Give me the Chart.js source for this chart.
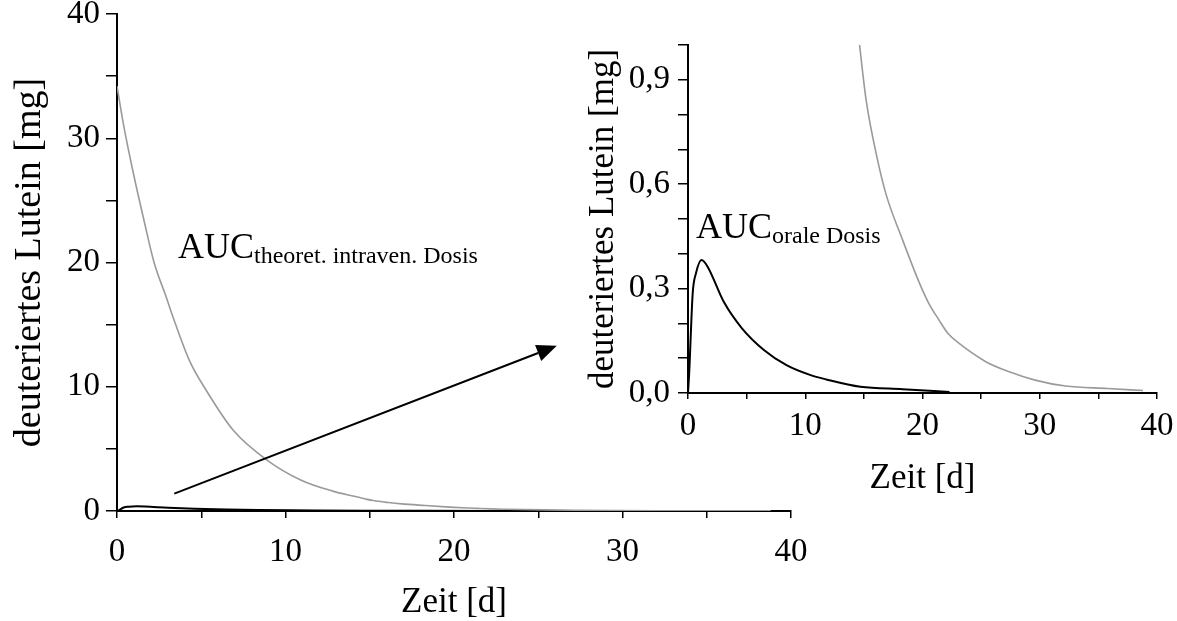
<!DOCTYPE html>
<html>
<head>
<meta charset="utf-8">
<script src="https://cdn.jsdelivr.net/npm/chart.js@4.4.1/dist/chart.umd.min.js"></script>
<style>
  html, body { margin: 0; padding: 0; background: #fff; overflow: hidden; }
  #wrap { position: relative; width: 1177px; height: 621px; overflow: hidden; }
  #main { position: absolute; left: 0; top: 0; }
  #inset { position: absolute; left: 560px; top: 0; }
</style>
</head>
<body>
<div id="wrap">
  <canvas id="main" width="1177" height="624"></canvas>
  <canvas id="inset" width="617" height="500"></canvas>
</div>
<script>
// theoretical intravenous dose (grey)
var zeitIv = [0, 0.4, 1, 1.6, 2.2, 2.9, 3.3, 4.3, 5.3, 6.9, 8.9, 10.9, 12.8, 14.0, 14.7, 15.2, 16.1, 16.9, 18.3, 19.75, 20.5, 21.4, 22.2, 23.1, 25.4, 27.4, 29.6, 32.2, 35.8, 38.8];
var luteinIv = [34.2, 31.0, 27.0, 23.4, 20.0, 17.3, 15.7, 12.1, 9.7, 6.5, 4.1, 2.5, 1.6, 1.2, 0.98, 0.84, 0.68, 0.57, 0.44, 0.315, 0.26, 0.21, 0.17, 0.143, 0.09, 0.061, 0.037, 0.02, 0.013, 0.007];

// oral dose (black)
var zeitOral = [0, 0.1, 0.4, 0.68, 1.16, 1.67, 3.05, 4.6, 6.5, 8.4, 10.4, 11.8, 14.7, 18.3, 22.3];
var luteinOral = [0, 0.057, 0.286, 0.344, 0.382, 0.363, 0.262, 0.186, 0.123, 0.08, 0.052, 0.039, 0.018, 0.011, 0.003];

var mainTicksX = [0, 10, 20, 30, 40];
var mainTicksY = [0, 10, 20, 30, 40];
var insetTicksY = [0, 0.3, 0.6, 0.9];

var serif = "'Liberation Serif', 'Times New Roman', serif";
var tickFont = { family: serif, size: 33 };
var titleFont = { family: serif, size: 35 };
var mainYTitleFont = { family: serif, size: 38 };

function points(xs, ys) {
    var out = [];
    for (var i = 0; i < xs.length; i++) {
        out.push({ x: xs[i], y: ys[i] });
    }
    return out;
}

function hasTick(list, v) {
    for (var i = 0; i < list.length; i++) {
        if (Math.abs(list[i] - v) < 1e-6) return true;
    }
    return false;
}

// "AUC" with subscript, placed in data coordinates
var aucLabel = {
    id: 'aucLabel',
    afterDatasetsDraw: function (chart, args, opts) {
        var ctx = chart.ctx;
        var px = chart.scales.x.getPixelForValue(opts.x);
        var py = chart.scales.y.getPixelForValue(opts.y);
        ctx.save();
        ctx.fillStyle = '#000';
        ctx.textBaseline = 'alphabetic';
        ctx.textAlign = 'left';
        ctx.font = '36px ' + serif;
        ctx.fillText('AUC', px, py);
        var w = ctx.measureText('AUC').width;
        ctx.font = '24px ' + serif;
        ctx.fillText(opts.sub, px + w, py + 5);
        ctx.restore();
    }
};

// arrow from the main chart towards the inset
var arrow = {
    id: 'arrow',
    afterDatasetsDraw: function (chart, args, opts) {
        var ctx = chart.ctx;
        var x1 = chart.scales.x.getPixelForValue(opts.from[0]);
        var y1 = chart.scales.y.getPixelForValue(opts.from[1]);
        var x2 = chart.scales.x.getPixelForValue(opts.to[0]);
        var y2 = chart.scales.y.getPixelForValue(opts.to[1]);
        var a = Math.atan2(y2 - y1, x2 - x1);
        var len = 20, half = 8.5;
        var bx = x2 - len * Math.cos(a), by = y2 - len * Math.sin(a);
        ctx.save();
        ctx.strokeStyle = '#000';
        ctx.fillStyle = '#000';
        ctx.lineWidth = 2;
        ctx.beginPath();
        ctx.moveTo(x1, y1);
        ctx.lineTo(bx, by);
        ctx.stroke();
        ctx.beginPath();
        ctx.moveTo(x2, y2);
        ctx.lineTo(bx + half * Math.sin(a), by - half * Math.cos(a));
        ctx.lineTo(bx - half * Math.sin(a), by + half * Math.cos(a));
        ctx.closePath();
        ctx.fill();
        ctx.restore();
    }
};

function datasets() {
    return [
        {
            label: 'AUC theoret. intraven. Dosis',
            data: points(zeitIv, luteinIv),
            borderColor: '#9a9a9a',
            borderWidth: 1.6,
            pointRadius: 0,
            fill: false,
            cubicInterpolationMode: 'monotone'
        },
        {
            label: 'AUC orale Dosis',
            data: points(zeitOral, luteinOral),
            borderColor: '#000',
            borderWidth: 2,
            pointRadius: 0,
            fill: false,
            cubicInterpolationMode: 'monotone'
        }
    ];
}

var mainChart = new Chart(document.getElementById('main'), {
    type: 'line',
    data: { datasets: datasets() },
    plugins: [aucLabel, arrow],
    options: {
        responsive: false,
        animation: false,
        devicePixelRatio: 1,
        layout: { padding: { left: 0, top: 14, right: 386, bottom: 0 } },
        plugins: {
            legend: { display: false },
            tooltip: { enabled: false },
            aucLabel: { x: 3.62, y: 20.35, sub: 'theoret. intraven. Dosis' },
            arrow: { from: [3.4, 1.4], to: [26.1, 13.3] }
        },
        scales: {
            x: {
                type: 'linear', min: 0, max: 40,
                border: { display: true, color: '#000', width: 2 },
                grid: { drawOnChartArea: false, drawTicks: true, tickLength: 7, color: '#000', lineWidth: 1.5 },
                ticks: {
                    stepSize: 5, autoSkip: false, maxRotation: 0, padding: 15, color: '#000', font: tickFont,
                    callback: function (v) { return hasTick(mainTicksX, v) ? String(v) : ''; }
                },
                title: { display: true, text: 'Zeit [d]', color: '#000', font: titleFont, padding: 0 },
                afterFit: function (s) { s.height = 624 - 511; s.paddingLeft = 0; s.paddingRight = 0; }
            },
            y: {
                type: 'linear', min: 0, max: 40,
                border: { display: true, color: '#000', width: 2 },
                grid: { drawOnChartArea: false, drawTicks: true, tickLength: 11, color: '#000', lineWidth: 1.5 },
                ticks: {
                    stepSize: 5, autoSkip: false, padding: 6, color: '#000', font: tickFont,
                    callback: function (v) { return hasTick(mainTicksY, v) ? String(v) : ''; }
                },
                title: { display: true, text: 'deuteriertes Lutein [mg]', color: '#000', font: mainYTitleFont, padding: { top: 7, bottom: 0 } },
                afterFit: function (s) { s.width = 117; s.paddingTop = 0; s.paddingBottom = 0; }
            }
        }
    }
});

var insetChart = new Chart(document.getElementById('inset'), {
    type: 'line',
    data: { datasets: datasets() },
    plugins: [aucLabel],
    options: {
        responsive: false,
        animation: false,
        devicePixelRatio: 1,
        layout: { padding: { left: 0, top: 45, right: 20, bottom: 0 } },
        plugins: {
            legend: { display: false },
            tooltip: { enabled: false },
            aucLabel: { x: 0.68, y: 0.445, sub: 'orale Dosis' }
        },
        scales: {
            x: {
                type: 'linear', min: 0, max: 40,
                border: { display: true, color: '#000', width: 2 },
                grid: { drawOnChartArea: false, drawTicks: true, tickLength: 6, color: '#000', lineWidth: 1.5 },
                ticks: {
                    stepSize: 5, autoSkip: false, maxRotation: 0, padding: 8, color: '#000', font: tickFont,
                    callback: function (v) { return hasTick(mainTicksX, v) ? String(v) : ''; }
                },
                title: { display: true, text: 'Zeit [d]', color: '#000', font: titleFont, padding: 0 },
                afterFit: function (s) { s.height = 500 - 393; s.paddingLeft = 0; s.paddingRight = 0; }
            },
            y: {
                type: 'linear', min: 0, max: 1,
                border: { display: true, color: '#000', width: 2 },
                grid: { drawOnChartArea: false, drawTicks: true, tickLength: 10, color: '#000', lineWidth: 1.5 },
                ticks: {
                    stepSize: 0.1, autoSkip: false, padding: 8, color: '#000', font: tickFont,
                    callback: function (v) { return hasTick(insetTicksY, v) ? v.toFixed(1).replace('.', ',') : ''; }
                },
                title: { display: true, text: 'deuteriertes Lutein [mg]', color: '#000', font: titleFont, padding: { top: 23, bottom: 0 } },
                afterFit: function (s) { s.width = 128; s.paddingTop = 0; s.paddingBottom = 0; }
            }
        }
    }
});
</script>
</body>
</html>
